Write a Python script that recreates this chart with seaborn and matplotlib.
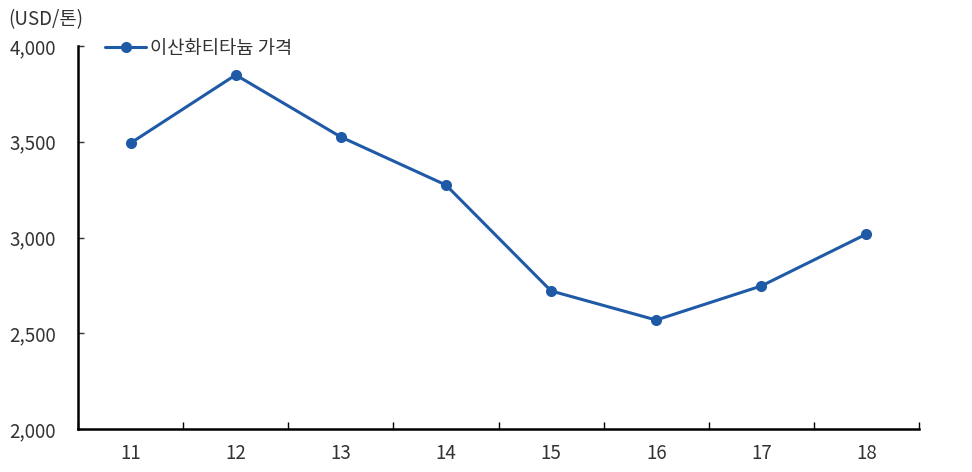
import pandas as pd
import seaborn as sns
import matplotlib.pyplot as plt
import numpy as np

years = ['11', '12', '13', '14', '15', '16', '17', '18']
price = [3493, 3849, 3525, 3274, 2721, 2569, 2747, 3018]
series_name = '이산화티타늄 가격'

df = pd.DataFrame({'year': years, 'price': price})

sns.set_style('white')
plt.rcParams['font.family'] = ['Noto Sans CJK KR', 'DejaVu Sans']

fig = plt.figure(figsize=(9.72, 4.72), dpi=100)
ax = fig.add_axes([78 / 972, 1 - 429 / 472, (919 - 78) / 972, (429 - 46) / 472])

sns.lineplot(x='year', y='price', data=df, ax=ax, color='#1f5aa6', linewidth=2.2,
             marker='o', markersize=8, markeredgewidth=0, label=series_name)

ax.set_xlim(-0.5, len(years) - 0.5)
ax.set_ylim(2000, 4000)
ax.set_yticks(np.arange(2000, 4001, 500))
ax.set_yticklabels([f'{v:,}' for v in range(2000, 4001, 500)])
ax.set_xticks(range(len(years)))
ax.set_xticklabels(years)
ax.set_xticks(np.arange(-0.5, len(years), 1), minor=True)
ax.tick_params(axis='x', which='major', length=0, pad=10, labelsize=13.5, labelcolor='#333333')
ax.tick_params(axis='x', which='minor', direction='in', length=5, width=1, color='black',
               bottom=True)
ax.tick_params(axis='y', direction='in', length=4, width=1, color='#333333', left=True,
               pad=16, labelsize=13.5, labelcolor='#333333')
ax.set_xlabel('')
ax.set_ylabel('')

sns.despine(ax=ax)
ax.spines['left'].set_linewidth(1.8)
ax.spines['bottom'].set_linewidth(1.8)
ax.spines['left'].set_color('black')
ax.spines['bottom'].set_color('black')

ax.legend(loc='upper left', bbox_to_anchor=(0.012, 1.065), frameon=False, fontsize=13.5,
          handlelength=2.2, handletextpad=0.2, labelcolor='#333333')

fig.text(8 / 972, 1 - 20 / 472, '(USD/톤)', fontsize=13.5, color='#333333', va='center', ha='left')

fig.savefig('out.png', dpi=100)
